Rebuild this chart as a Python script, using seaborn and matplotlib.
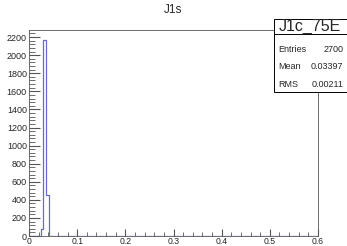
import numpy as np
import pandas as pd
import seaborn as sns
import matplotlib.pyplot as plt
from matplotlib.ticker import MultipleLocator

# histogram data (100 bins between 0 and 0.6)
n_bins = 100
x_range = (0, 0.6)
bin_centers = [0.027, 0.033, 0.039]
bin_counts = [80, 2170, 450]

hist_name = "J1c_75E"
stat_labels = ["Entries", "Mean", "RMS"]
stat_values = ["2700", "0.03397", "0.00211"]

sns.set_style("ticks")
plt.rcParams['font.family'] = ['Liberation Sans', 'DejaVu Sans']

fig = plt.figure(figsize=(3.47, 2.46), dpi=100)
ax = fig.add_axes([29 / 347, 10 / 246, 289 / 347, 206 / 246])

df = pd.DataFrame({"x": bin_centers, "w": bin_counts})
sns.histplot(data=df, x="x", weights="w", bins=n_bins, binrange=x_range,
             element="step", fill=False, color="#6a6ad0", linewidth=0.9, ax=ax)

ax.set_xlim(*x_range)
ax.set_ylim(0, max(bin_counts) * 1.05)
ax.set_xlabel("")
ax.set_ylabel("")
ax.xaxis.set_minor_locator(MultipleLocator(0.02))
ax.yaxis.set_major_locator(MultipleLocator(200))
ax.yaxis.set_minor_locator(MultipleLocator(40))
ax.set_xticks(np.arange(0, 0.61, 0.1))
ax.set_xticklabels(["0", "0.1", "0.2", "0.3", "0.4", "0.5", "0.6"])
ax.tick_params(which="both", direction="in", labelsize=6.5, pad=1.5, color="#555555")
ax.tick_params(axis="x", which="both", pad=0.5, labelsize=6.2)
ax.tick_params(axis="y", which="major", length=8)
ax.tick_params(axis="y", which="minor", length=4)
ax.tick_params(axis="x", which="major", length=5)
ax.tick_params(axis="x", which="minor", length=3)
for s in ax.spines.values():
    s.set_linewidth(0.6)
    s.set_color("#555555")

fig.text(0.5, 1 - 10 / 246, "J1s", ha="center", va="center", fontsize=8.5)

# stats box
x0, x1 = 274 / 347, 346.5 / 347
ytop, ydiv, ybot = 1 - 19 / 246, 1 - 34 / 246, 1 - 92 / 246
box = plt.Rectangle((x0, ybot), x1 - x0, ytop - ybot, transform=fig.transFigure,
                    facecolor="white", edgecolor="black", linewidth=0.7, zorder=5)
fig.add_artist(box)
fig.add_artist(plt.Line2D([x0, x1], [ydiv, ydiv], transform=fig.transFigure,
                          color="black", linewidth=0.7, zorder=6))
fig.text((x0 + x1) / 2, (ytop + ydiv) / 2, hist_name, ha="center", va="center",
         fontsize=11.5, zorder=7)
for i, (lab, val) in enumerate(zip(stat_labels, stat_values)):
    y = 1 - (49 + 17.5 * i) / 246
    fig.text(x0 + 4 / 347, y, lab, ha="left", va="center", fontsize=6.5, zorder=7)
    fig.text(x1 - 3 / 347, y, val, ha="right", va="center", fontsize=6.5, zorder=7)

fig.savefig("out.png", dpi=100)
